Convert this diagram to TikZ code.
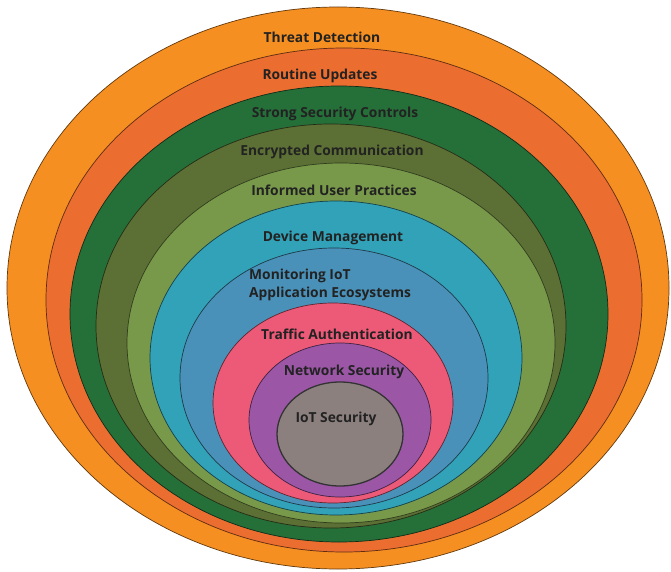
\documentclass[tikz,border=0pt]{standalone}
\usepackage{fontspec}
\setmainfont{Open Sans}
\usepackage{tikz}
\usetikzlibrary{positioning}
\usepackage{xcolor}
\definecolor{threat}{RGB}{246,143,33}
\definecolor{routine}{RGB}{235,110,48}
\definecolor{strong}{RGB}{37,111,57}
\definecolor{crypt}{RGB}{92,111,52}
\definecolor{informed}{RGB}{120,153,74}
\definecolor{device}{RGB}{50,162,184}
\definecolor{monitor}{RGB}{74,145,185}
\definecolor{traffic}{RGB}{236,90,120}
\definecolor{network}{RGB}{155,86,166}
\definecolor{iotgray}{RGB}{140,128,127}
\definecolor{labelink}{RGB}{34,34,34}

\tikzset{
  layer/.style={fill=#1, draw=#1!40!black, line width=0.7pt},
  ringlabel/.style={font=\fontsize{13.8}{16}\selectfont\bfseries, text=labelink, inner sep=1pt}
}

\begin{document}
\begin{tikzpicture}[x=1pt,y=-1pt]
    \useasboundingbox (0,0) rectangle (671,572);
    % rings, outermost first
    \draw[layer=threat]   (338,288) ellipse (331 and 281);
    \draw[layer=routine]  (344,300) ellipse (298 and 252);
    \draw[layer=strong]   (339,314) ellipse (269 and 228);
    \draw[layer=crypt]    (331,326) ellipse (235 and 202);
    \draw[layer=informed] (341,343) ellipse (214 and 180);
    \draw[layer=device]   (336,358) ellipse (186 and 157);
    \draw[layer=monitor]  (334,378) ellipse (154 and 130);
    \draw[layer=traffic]  (333,403) ellipse (120 and 100);
    \draw[layer=network]  (340,420) ellipse (91 and 77);
    % core
    \draw[fill=iotgray,draw=black!80,line width=1.3pt] (340,434) ellipse (63 and 52);

    % labels
    \node[ringlabel] (threatlbl)   at (322,37)  {Threat Detection};
    \node[ringlabel] (routinelbl)  at (320,76)  {Routine Updates};
    \node[ringlabel] (stronglbl)   at (335,114) {Strong Security Controls};
    \node[ringlabel] (cryptlbl)    at (332,152) {Encrypted Communication};
    \node[ringlabel] (informedlbl) at (334,190) {Informed User Practices};
    \node[ringlabel] (devicelbl)   at (333,238) {Device Management};
    \node[ringlabel,anchor=west] (monitorlbl) at (248,276) {Monitoring IoT};
    \node[ringlabel,anchor=west] (ecolbl)     at (248,294) {Application Ecosystems};
    \node[ringlabel] (trafficlbl)  at (337,334) {Traffic Authentication};
    \node[ringlabel] (networklbl)  at (344,372) {Network Security};
    \node[ringlabel] (iotlbl)      at (336,419) {IoT Security};
\end{tikzpicture}
\end{document}
